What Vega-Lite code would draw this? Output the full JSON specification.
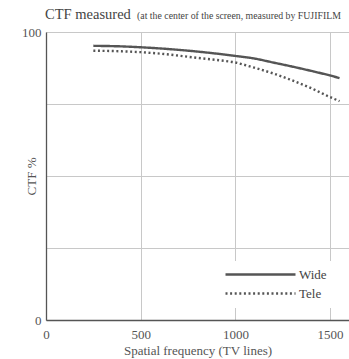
{
  "$schema": "https://vega.github.io/schema/vega-lite/v6.json",
  "width": 303,
  "height": 288,
  "autosize": "none",
  "padding": {"left": 46, "top": 32, "right": 0, "bottom": 39},
  "background": "white",
  "config": {"font": "Liberation Serif", "view": {"stroke": null}},
  "layer": [
    {
      "data": {"values": [
        {"lens": "Wide", "freq": 250, "ctf": 95.2},
        {"lens": "Wide", "freq": 400, "ctf": 95.0},
        {"lens": "Wide", "freq": 500, "ctf": 94.7},
        {"lens": "Wide", "freq": 600, "ctf": 94.3},
        {"lens": "Wide", "freq": 700, "ctf": 93.8},
        {"lens": "Wide", "freq": 800, "ctf": 93.2},
        {"lens": "Wide", "freq": 900, "ctf": 92.5},
        {"lens": "Wide", "freq": 1000, "ctf": 91.7},
        {"lens": "Wide", "freq": 1100, "ctf": 90.8},
        {"lens": "Wide", "freq": 1200, "ctf": 89.4},
        {"lens": "Wide", "freq": 1300, "ctf": 88.0},
        {"lens": "Wide", "freq": 1400, "ctf": 86.5},
        {"lens": "Wide", "freq": 1500, "ctf": 84.9},
        {"lens": "Wide", "freq": 1550, "ctf": 84.0},
        {"lens": "Tele", "freq": 250, "ctf": 93.5},
        {"lens": "Tele", "freq": 400, "ctf": 93.3},
        {"lens": "Tele", "freq": 500, "ctf": 93.0},
        {"lens": "Tele", "freq": 600, "ctf": 92.5},
        {"lens": "Tele", "freq": 700, "ctf": 91.8},
        {"lens": "Tele", "freq": 800, "ctf": 91.0},
        {"lens": "Tele", "freq": 900, "ctf": 90.3},
        {"lens": "Tele", "freq": 1000, "ctf": 89.4},
        {"lens": "Tele", "freq": 1100, "ctf": 87.6},
        {"lens": "Tele", "freq": 1200, "ctf": 85.6},
        {"lens": "Tele", "freq": 1300, "ctf": 83.2},
        {"lens": "Tele", "freq": 1400, "ctf": 80.5},
        {"lens": "Tele", "freq": 1500, "ctf": 77.4},
        {"lens": "Tele", "freq": 1550, "ctf": 76.0}
      ]},
      "mark": {"type": "line", "interpolate": "monotone", "color": "#555", "strokeWidth": 2.4},
      "encoding": {
        "x": {
          "field": "freq", "type": "quantitative",
          "scale": {"domain": [0, 1600], "nice": false},
          "axis": {
            "values": [0, 500, 1000, 1500], "format": "d",
            "title": "Spatial frequency (TV lines)",
            "grid": true, "gridColor": "#c8c8c8", "gridWidth": 1,
            "ticks": false, "tickSize": 0,
            "domainColor": "#555", "domainWidth": 1.3,
            "labelFontSize": 13, "labelColor": "#555", "labelPadding": 8, "labelFlush": false,
            "titleFontSize": 13, "titleFontWeight": "normal", "titleColor": "#555", "titlePadding": 3
          }
        },
        "y": {
          "field": "ctf", "type": "quantitative",
          "scale": {"domain": [0, 100], "nice": false},
          "axis": {
            "values": [0, 25, 50, 75, 100],
            "labelExpr": "datum.value == 0 || datum.value == 100 ? datum.label : ''",
            "title": "CTF %",
            "titleX": -11, "titleY": 144, "titleBaseline": "alphabetic", "titleAlign": "center",
            "grid": true, "gridColor": "#c8c8c8", "gridWidth": 1,
            "ticks": false, "tickSize": 0,
            "domainColor": "#555", "domainWidth": 1.3,
            "labelFontSize": 13, "labelColor": "#555", "labelPadding": 5,
            "titleFontSize": 13, "titleFontWeight": "normal", "titleColor": "#555"
          }
        },
        "strokeDash": {
          "field": "lens", "type": "nominal",
          "scale": {"domain": ["Wide", "Tele"], "range": [[1, 0], [2, 2.6]]},
          "legend": {
            "orient": "none", "legendX": 166, "legendY": 229,
            "title": null, "fillColor": "white", "padding": 7,
            "symbolType": "M0,0H70", "symbolSize": 4, "symbolStrokeWidth": 2.4,
            "symbolStrokeColor": "#555",
            "labelFontSize": 13, "labelColor": "#444", "labelOffset": 67, "rowPadding": 5
          }
        }
      }
    },
    {
      "data": {"values": [{"heading": "CTF measured"}]},
      "mark": {"type": "text", "align": "left", "baseline": "alphabetic", "fontSize": 14.5, "color": "#444", "clip": false},
      "encoding": {
        "text": {"field": "heading"},
        "x": {"datum": -5, "type": "quantitative"},
        "y": {"datum": 104.5, "type": "quantitative"}
      }
    },
    {
      "data": {"values": [{"note": "(at the center of the screen, measured by FUJIFILM"}]},
      "mark": {"type": "text", "align": "left", "baseline": "alphabetic", "fontSize": 9.8, "color": "#444", "clip": false},
      "encoding": {
        "text": {"field": "note"},
        "x": {"datum": 481, "type": "quantitative"},
        "y": {"datum": 104.5, "type": "quantitative"}
      }
    }
  ]
}
